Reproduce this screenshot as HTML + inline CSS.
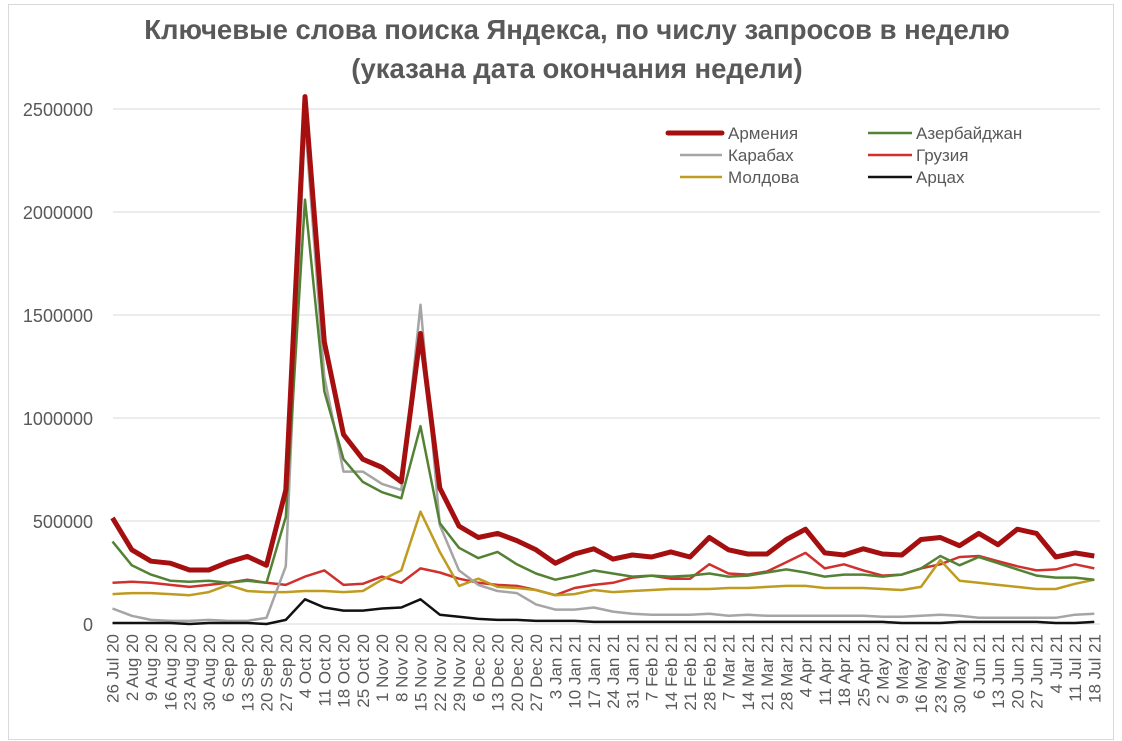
<!DOCTYPE html>
<html><head><meta charset="utf-8"><style>
body{margin:0;background:#fff}
svg{display:block;font-family:"Liberation Sans",Arial,sans-serif}
</style></head><body>
<svg id="s" width="1122" height="741" xmlns="http://www.w3.org/2000/svg">
<rect x="8.5" y="4.5" width="1105" height="735" fill="#fff" stroke="#d9d9d9"/>
<text x="577" y="39" text-anchor="middle" font-size="27.5" font-weight="bold" fill="#595959">Ключевые слова поиска Яндекса, по числу запросов в неделю</text>
<text x="577" y="78" text-anchor="middle" font-size="27.5" font-weight="bold" fill="#595959">(указана дата окончания недели)</text>
<g id="grid"></g><g id="lines"></g><g id="lab"></g>
<g font-size="17" fill="#595959">
<line x1="668" y1="133" x2="722" y2="133" stroke="#a50f0f" stroke-width="5" stroke-linecap="round"/><text x="728" y="139">Армения</text>
<line x1="868" y1="133" x2="912" y2="133" stroke="#548235" stroke-width="2.5"/><text x="916" y="139">Азербайджан</text>
<line x1="680" y1="155" x2="722" y2="155" stroke="#a5a5a5" stroke-width="2.5"/><text x="728" y="161">Карабах</text>
<line x1="868" y1="155" x2="912" y2="155" stroke="#d0312d" stroke-width="2.5"/><text x="916" y="161">Грузия</text>
<line x1="680" y1="177" x2="722" y2="177" stroke="#bf9b1f" stroke-width="2.5"/><text x="728" y="183">Молдова</text>
<line x1="868" y1="177" x2="912" y2="177" stroke="#111" stroke-width="2.5"/><text x="916" y="183">Арцах</text>
</g>
</svg>
<script>
var NS="http://www.w3.org/2000/svg";
function el(p,t,a,txt){var e=document.createElementNS(NS,t);for(var k in a)e.setAttribute(k,a[k]);if(txt!=null)e.textContent=txt;document.getElementById(p).appendChild(e);}
var y0=624,ys=(624-109)/2500,x0=112.5,dx=19.25;
for(var v=0;v<=2500;v+=500){var y=y0-v*ys;el("grid","line",{x1:113,x2:1100,y1:y,y2:y,stroke:"#d9d9d9","stroke-width":1});
el("grid","text",{x:93,y:y+7,"text-anchor":"end","font-size":18,fill:"#595959"},v==0?"0":v*1000);}
var D={
g:[200,205,200,190,180,190,200,215,200,190,230,260,190,195,230,200,270,250,220,200,190,185,165,140,175,190,200,225,235,220,220,290,245,240,255,300,345,270,290,260,235,240,270,290,325,330,305,280,260,265,290,270],
m:[145,150,150,145,140,155,190,160,155,155,160,160,155,160,215,260,545,350,185,220,180,175,165,140,145,165,155,160,165,170,170,170,175,175,180,185,185,175,175,175,170,165,180,310,210,200,190,180,170,170,195,215],
k:[75,40,20,15,15,20,15,15,30,280,2440,1200,740,740,680,650,1550,480,260,190,160,150,95,70,70,80,60,50,45,45,45,50,40,45,40,40,40,40,40,40,35,35,40,45,40,30,30,30,30,30,45,50],
z:[400,285,240,210,205,210,200,210,200,520,2060,1130,800,690,640,610,960,490,370,320,350,290,245,215,235,260,245,230,235,230,235,245,230,235,250,265,250,230,240,240,230,240,270,330,285,325,295,265,235,225,225,215],
t:[5,5,5,5,0,5,5,5,0,20,120,80,65,65,75,80,120,45,35,25,20,20,15,15,15,10,10,10,10,10,10,10,10,10,10,10,10,10,10,10,10,5,5,5,10,10,10,10,10,5,5,10],
a:[515,360,305,295,262,262,300,328,285,650,2560,1370,920,800,760,690,1410,660,475,420,440,405,360,295,340,365,315,335,325,350,325,420,360,340,340,410,460,345,335,365,340,335,410,420,380,440,385,460,440,325,345,330]};
var st={g:["#d0312d",2.5],m:["#bf9b1f",2.5],k:["#a5a5a5",2.5],z:["#548235",2.5],t:["#111",2.5],a:["#a50f0f",5]};
for(var s in D){var p=D[s].map(function(v,i){return (x0+i*dx).toFixed(1)+","+(y0-v*ys).toFixed(1)}).join(" ");
el("lines","polyline",{points:p,fill:"none",stroke:st[s][0],"stroke-width":st[s][1],"stroke-linejoin":"round"});}
var mo=["Jan","Feb","Mar","Apr","May","Jun","Jul","Aug","Sep","Oct","Nov","Dec"];
var d=new Date(Date.UTC(2020,6,26));
for(var i=0;i<52;i++){var t=d.getUTCDate()+" "+mo[d.getUTCMonth()]+" "+String(d.getUTCFullYear()).slice(2);
var x=x0+i*dx+6;el("lab","text",{x:0,y:0,transform:"translate("+x+",634) rotate(-90)","text-anchor":"end","font-size":17,fill:"#595959"},t);
d=new Date(d.getTime()+7*864e5);}
</script>
</body></html>
